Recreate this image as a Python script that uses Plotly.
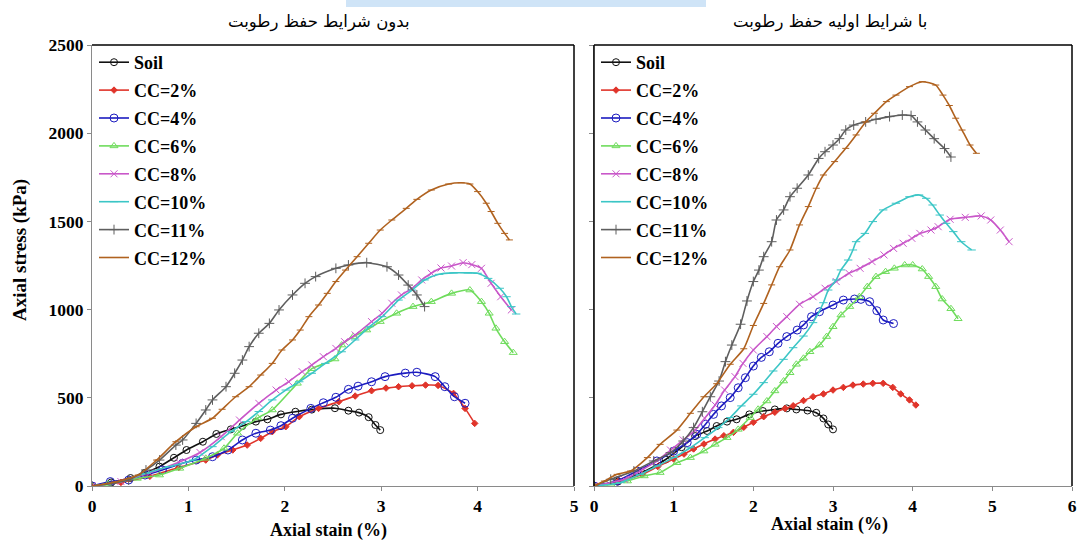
import plotly.graph_objects as go

# ---------------- data ----------------
names = ["Soil", "CC=2%", "CC=4%", "CC=6%", "CC=8%", "CC=10%", "CC=11%", "CC=12%"]

# Left panel: بدون شرایط حفظ رطوبت
L_soil_x = [0, 0.2, 0.4, 0.55, 0.7, 0.85, 0.98, 1.15, 1.29, 1.44, 1.56, 1.70, 1.82, 1.96, 2.11, 2.28, 2.52, 2.66, 2.77, 2.87, 2.94, 2.99]
L_soil_y = [0, 20, 45, 75, 110, 160, 204, 251, 295, 321, 340, 365, 378, 406, 421, 433, 441, 427, 416, 390, 346, 317]
L_cc2_x = [0, 0.3, 0.6, 0.9, 1.18, 1.30, 1.46, 1.61, 1.75, 1.87, 2.01, 2.15, 2.35, 2.56, 2.73, 2.90, 3.05, 3.18, 3.32, 3.46, 3.59, 3.75, 3.87, 3.97]
L_cc2_y = [0, 20, 55, 105, 147, 176, 204, 232, 270, 308, 336, 393, 440, 478, 510, 540, 555, 563, 568, 572, 570, 525, 440, 355]
L_cc4_x = [0, 0.19, 0.38, 0.55, 0.73, 0.94, 1.08, 1.25, 1.41, 1.56, 1.70, 1.85, 1.96, 2.08, 2.27, 2.40, 2.53, 2.66, 2.76, 2.90, 3.04, 3.25, 3.37, 3.56, 3.66, 3.76, 3.87]
L_cc4_y = [0, 25, 34, 62, 91, 129, 147, 166, 204, 261, 299, 317, 342, 384, 440, 472, 503, 548, 566, 591, 620, 640, 645, 620, 563, 506, 469]
L_cc6_x = [0, 0.165, 0.47, 0.70, 0.91, 1.18, 1.37, 1.51, 1.72, 1.87, 2.13, 2.28, 2.52, 2.59, 2.71, 2.85, 2.99, 3.16, 3.33, 3.52, 3.73, 3.92, 4.04, 4.12, 4.19, 4.28, 4.37]
L_cc6_y = [0, 11, 43, 62, 100, 157, 214, 299, 386, 431, 582, 665, 720, 799, 847, 884, 932, 979, 1017, 1045, 1092, 1111, 1045, 979, 894, 818, 756]
L_cc8_x = [0, 0.3, 0.6, 0.9, 1.12, 1.34, 1.53, 1.73, 1.91, 2.04, 2.18, 2.28, 2.40, 2.53, 2.62, 2.73, 2.90, 3.01, 3.11, 3.21, 3.32, 3.42, 3.52, 3.62, 3.73, 3.85, 3.94, 4.04, 4.14, 4.24, 4.35]
L_cc8_y = [0, 25, 75, 135, 190, 280, 374, 469, 544, 591, 648, 686, 733, 780, 818, 856, 932, 979, 1036, 1083, 1121, 1168, 1206, 1236, 1247, 1266, 1255, 1234, 1149, 1073, 998]
L_cc10_x = [0, 0.3, 0.56, 0.8, 1.05, 1.25, 1.44, 1.60, 1.73, 1.87, 2.01, 2.15, 2.28, 2.42, 2.59, 2.73, 2.88, 3.01, 3.18, 3.32, 3.45, 3.60, 3.75, 3.90, 4.00, 4.11, 4.23, 4.30, 4.35, 4.40]
L_cc10_y = [0, 25, 72, 110, 147, 223, 308, 365, 422, 488, 544, 591, 639, 695, 761, 828, 903, 960, 1054, 1111, 1168, 1200, 1208, 1208, 1206, 1177, 1121, 1073, 1017, 975]
L_cc11_x = [0, 0.2, 0.38, 0.56, 0.70, 0.87, 0.94, 1.08, 1.18, 1.25, 1.39, 1.48, 1.56, 1.63, 1.73, 1.84, 1.94, 2.08, 2.21, 2.32, 2.53, 2.66, 2.85, 3.06, 3.18, 3.28, 3.37, 3.45]
L_cc11_y = [0, 15, 34, 91, 147, 232, 261, 355, 431, 488, 563, 639, 714, 790, 866, 922, 998, 1083, 1149, 1187, 1234, 1253, 1266, 1243, 1196, 1139, 1083, 1017]
L_cc12_x = [0, 0.24, 0.48, 0.67, 0.87, 1.08, 1.25, 1.35, 1.49, 1.63, 1.75, 1.87, 1.97, 2.08, 2.16, 2.25, 2.35, 2.44, 2.53, 2.63, 2.75, 2.87, 2.99, 3.11, 3.26, 3.37, 3.52, 3.70, 3.83, 3.92, 4.00, 4.09, 4.14, 4.21, 4.28, 4.33]
L_cc12_y = [0, 23, 62, 147, 251, 336, 384, 435, 506, 563, 629, 695, 771, 828, 884, 960, 1026, 1092, 1159, 1224, 1300, 1376, 1451, 1508, 1574, 1625, 1678, 1712, 1719, 1712, 1669, 1603, 1556, 1489, 1432, 1395]

# Right panel: با شرایط اولیه حفظ رطوبت
R_soil_x = [0, 0.3, 0.6, 0.9, 1.1, 1.27, 1.42, 1.54, 1.67, 1.79, 1.95, 2.12, 2.27, 2.42, 2.54, 2.68, 2.79, 2.88, 2.94, 3.0]
R_soil_y = [0, 25, 75, 150, 220, 283, 312, 340, 365, 378, 406, 425, 434, 440, 434, 428, 415, 383, 349, 321]
R_cc2_x = [0, 0.3, 0.6, 0.8, 1.0, 1.13, 1.25, 1.38, 1.52, 1.63, 1.75, 1.88, 2.0, 2.13, 2.27, 2.40, 2.50, 2.63, 2.75, 2.88, 3.0, 3.13, 3.25, 3.38, 3.50, 3.63, 3.75, 3.85, 3.96, 4.04]
R_cc2_y = [0, 25, 65, 110, 153, 181, 210, 238, 266, 285, 304, 333, 361, 393, 418, 440, 455, 484, 506, 522, 544, 559, 572, 578, 582, 582, 559, 522, 488, 459]
R_cc4_x = [0, 0.29, 0.54, 0.79, 1.0, 1.17, 1.29, 1.40, 1.50, 1.60, 1.71, 1.81, 1.90, 2.0, 2.10, 2.20, 2.31, 2.42, 2.55, 2.63, 2.73, 2.83, 3.0, 3.13, 3.27, 3.35, 3.46, 3.55, 3.63, 3.76]
R_cc4_y = [0, 28, 85, 142, 198, 246, 293, 350, 406, 454, 501, 557, 614, 680, 729, 761, 809, 847, 884, 913, 960, 988, 1026, 1054, 1060, 1058, 1045, 994, 941, 921]
R_cc6_x = [0, 0.21, 0.42, 0.63, 0.83, 1.04, 1.21, 1.38, 1.52, 1.67, 1.81, 1.96, 2.06, 2.17, 2.27, 2.38, 2.46, 2.54, 2.63, 2.71, 2.83, 2.92, 3.0, 3.10, 3.21, 3.33, 3.43, 3.54, 3.66, 3.77, 3.90, 4.00, 4.12, 4.20, 4.29, 4.37, 4.48, 4.57]
R_cc6_y = [0, 10, 28, 57, 76, 132, 161, 198, 236, 274, 321, 388, 435, 482, 539, 595, 642, 690, 724, 761, 799, 847, 903, 969, 1017, 1073, 1130, 1187, 1215, 1234, 1253, 1253, 1230, 1187, 1130, 1060, 1005, 948]
R_cc8_x = [0, 0.38, 0.58, 0.79, 0.96, 1.12, 1.27, 1.39, 1.52, 1.64, 1.77, 1.87, 2.0, 2.17, 2.29, 2.42, 2.58, 2.75, 2.90, 3.04, 3.20, 3.34, 3.49, 3.64, 3.76, 3.88, 3.99, 4.09, 4.23, 4.32, 4.47, 4.66, 4.86, 4.98, 5.10, 5.21]
R_cc8_y = [0, 38, 85, 142, 204, 261, 317, 384, 459, 544, 620, 695, 771, 847, 904, 960, 1030, 1073, 1121, 1159, 1206, 1234, 1272, 1310, 1347, 1376, 1404, 1432, 1451, 1470, 1512, 1523, 1531, 1508, 1451, 1385]
R_cc10_x = [0, 0.33, 0.58, 0.79, 1.0, 1.21, 1.39, 1.56, 1.71, 1.85, 2.0, 2.13, 2.25, 2.38, 2.50, 2.63, 2.75, 2.88, 2.94, 3.04, 3.10, 3.19, 3.25, 3.29, 3.40, 3.50, 3.63, 3.79, 3.96, 4.08, 4.17, 4.25, 4.34, 4.42, 4.51, 4.61, 4.74]
R_cc10_y = [0, 19, 66, 113, 161, 217, 274, 331, 388, 454, 520, 586, 652, 718, 784, 850, 926, 1039, 1111, 1168, 1225, 1281, 1338, 1385, 1432, 1499, 1565, 1603, 1640, 1650, 1631, 1593, 1536, 1489, 1442, 1385, 1338]
R_cc11_x = [0, 0.21, 0.50, 0.75, 0.96, 1.12, 1.25, 1.36, 1.46, 1.57, 1.65, 1.73, 1.84, 1.92, 2.0, 2.07, 2.13, 2.23, 2.29, 2.38, 2.46, 2.55, 2.69, 2.82, 2.90, 3.0, 3.08, 3.16, 3.26, 3.41, 3.54, 3.71, 3.87, 3.98, 4.06, 4.16, 4.27, 4.40, 4.48]
R_cc11_y = [0, 38, 85, 142, 189, 255, 331, 421, 506, 595, 705, 799, 917, 1049, 1159, 1224, 1300, 1385, 1508, 1565, 1640, 1688, 1763, 1857, 1895, 1933, 1969, 2018, 2046, 2064, 2079, 2094, 2103, 2100, 2064, 2018, 1969, 1913, 1865]
R_cc12_x = [0, 0.13, 0.29, 0.46, 0.67, 0.83, 1.04, 1.21, 1.38, 1.54, 1.71, 1.88, 2.0, 2.13, 2.23, 2.33, 2.46, 2.58, 2.69, 2.79, 2.88, 3.02, 3.16, 3.29, 3.41, 3.52, 3.67, 3.79, 3.96, 4.12, 4.29, 4.38, 4.46, 4.54, 4.62, 4.72, 4.80]
R_cc12_y = [0, 28, 66, 85, 161, 236, 317, 412, 506, 580, 690, 778, 910, 1035, 1140, 1243, 1338, 1480, 1584, 1688, 1763, 1839, 1914, 1990, 2064, 2113, 2179, 2216, 2264, 2292, 2273, 2216, 2157, 2085, 2018, 1933, 1886]

left_series = [(L_soil_x, L_soil_y), (L_cc2_x, L_cc2_y), (L_cc4_x, L_cc4_y), (L_cc6_x, L_cc6_y),
               (L_cc8_x, L_cc8_y), (L_cc10_x, L_cc10_y), (L_cc11_x, L_cc11_y), (L_cc12_x, L_cc12_y)]
right_series = [(R_soil_x, R_soil_y), (R_cc2_x, R_cc2_y), (R_cc4_x, R_cc4_y), (R_cc6_x, R_cc6_y),
                (R_cc8_x, R_cc8_y), (R_cc10_x, R_cc10_y), (R_cc11_x, R_cc11_y), (R_cc12_x, R_cc12_y)]

left_title = "بدون شرایط حفظ رطوبت"
right_title = "با شرایط اولیه حفظ رطوبت"
x_title = "Axial stain (%)"
y_title = "Axial stress (kPa)"
y_ticks = [0, 500, 1000, 1500, 2000, 2500]
left_xticks = [0, 1, 2, 3, 4, 5]
right_xticks = [0, 1, 2, 3, 4, 5, 6]

# ---------------- styles ----------------
colors = ["#111111", "#e0342a", "#1c1cc0", "#6fdc5c", "#c957c9", "#3cc6c6", "#5e5e5e", "#b0621f"]
symbols = ["circle-open", "diamond", "circle-open", "triangle-up-open", "x-thin-open",
           "line-ew-open", "cross-thin-open", "line-ew-open"]
sizes = [7, 5, 8, 7, 7, 6, 7, 5]

SERIF = "Liberation Serif"
W, H = 1077, 541
# pixel layout
Lx0, Lx1 = 92, 574
Rx0, Rx1 = 594, 1072
Ytop, Ybot = 45, 486

def px(x):
    return x / W

def py(y):
    return 1 - y / H

fig = go.Figure()

for panel, series, xa, ya, leg in [("L", left_series, "x", "y", "legend"),
                                    ("R", right_series, "x2", "y2", "legend2")]:
    for i, (xs, ys) in enumerate(series):
        fig.add_trace(go.Scatter(
            x=xs, y=ys, name=names[i], xaxis=xa, yaxis=ya, legend=leg,
            mode="lines+markers", legendgroup=panel + str(i),
            line=dict(color=colors[i], width=1.6, shape="spline", smoothing=0.6),
            marker=dict(symbol=symbols[i], size=sizes[i], color=colors[i],
                        line=dict(color=colors[i], width=1)),
        ))

tickfont = dict(family=SERIF, size=17.5, color="black", weight="bold")
axis_common = dict(showgrid=False, zeroline=False, showline=True, linecolor="#8a8a8a",
                   linewidth=1.2, ticks="outside", ticklen=4, tickcolor="#8a8a8a",
                   automargin=False)
legend_font = dict(family=SERIF, size=18, color="black", weight="bold")

fig.update_layout(
    width=W, height=H,
    margin=dict(l=0, r=0, t=0, b=0, autoexpand=False),
    paper_bgcolor="white", plot_bgcolor="white",
    xaxis=dict(domain=[px(Lx0), px(Lx1)], range=[0, 5], tickvals=left_xticks, anchor="y",
               tickfont=tickfont, **axis_common),
    yaxis=dict(domain=[py(Ybot), py(Ytop)], range=[0, 2500], tickvals=y_ticks, anchor="x",
               tickfont=tickfont, **axis_common),
    xaxis2=dict(domain=[px(Rx0), px(Rx1)], range=[0, 6], tickvals=right_xticks, anchor="y2",
                tickfont=tickfont, **axis_common),
    yaxis2=dict(domain=[py(Ybot), py(Ytop)], range=[0, 2500], tickvals=y_ticks, anchor="x2",
                showticklabels=False, **axis_common),
    legend=dict(x=px(Lx0 + 2), y=py(Ytop - 1), xanchor="left", yanchor="top",
                bgcolor="rgba(0,0,0,0)", tracegroupgap=1.5, itemwidth=30, font=legend_font),
    legend2=dict(x=px(Rx0 + 2), y=py(Ytop - 1), xanchor="left", yanchor="top",
                 bgcolor="rgba(0,0,0,0)", tracegroupgap=1.5, itemwidth=30, font=legend_font),
    showlegend=True,
)

def hline(x0, x1, y):
    return dict(type="line", xref="paper", yref="paper", x0=px(x0), x1=px(x1), y0=py(y), y1=py(y),
                line=dict(color="black", width=1.5))

def vline(x, y0, y1):
    return dict(type="line", xref="paper", yref="paper", x0=px(x), x1=px(x), y0=py(y0), y1=py(y1),
                line=dict(color="black", width=1.5))

shapes = [
    hline(Lx0, Lx1, Ytop), vline(Lx1, Ytop, Ybot),
    hline(Rx0, Rx1, Ytop), vline(Rx1, Ytop, Ybot), vline(Rx0, Ytop, Ybot),
    # light blue strip at the very top
    dict(type="rect", xref="paper", yref="paper", x0=px(346), x1=px(706), y0=py(7), y1=1,
         line=dict(width=0), fillcolor="#cfe4f7"),
]
fig.update_layout(shapes=shapes)

def note(text, x, y, size, family, angle=0, weight="normal"):
    return dict(text=text, x=px(x), y=py(y), xref="paper", yref="paper", showarrow=False,
                xanchor="center", yanchor="middle", textangle=angle,
                font=dict(family=family, size=size, color="black", weight=weight))

ann = [
    note(left_title, 318, 22, 16.5, "DejaVu Sans"),
    note(right_title, 830, 22, 16.5, "DejaVu Sans"),
    note(x_title, 328, 530, 18, SERIF, weight="bold"),
    note(x_title, 829, 524, 18, SERIF, weight="bold"),
    note(y_title, 20, 250, 19, SERIF, angle=-90, weight="bold"),
]
fig.update_layout(annotations=ann)

fig.write_html("out.html", config={"displayModeBar": False},
               post_script="document.body.style.margin='0';document.body.style.overflow='hidden';")
